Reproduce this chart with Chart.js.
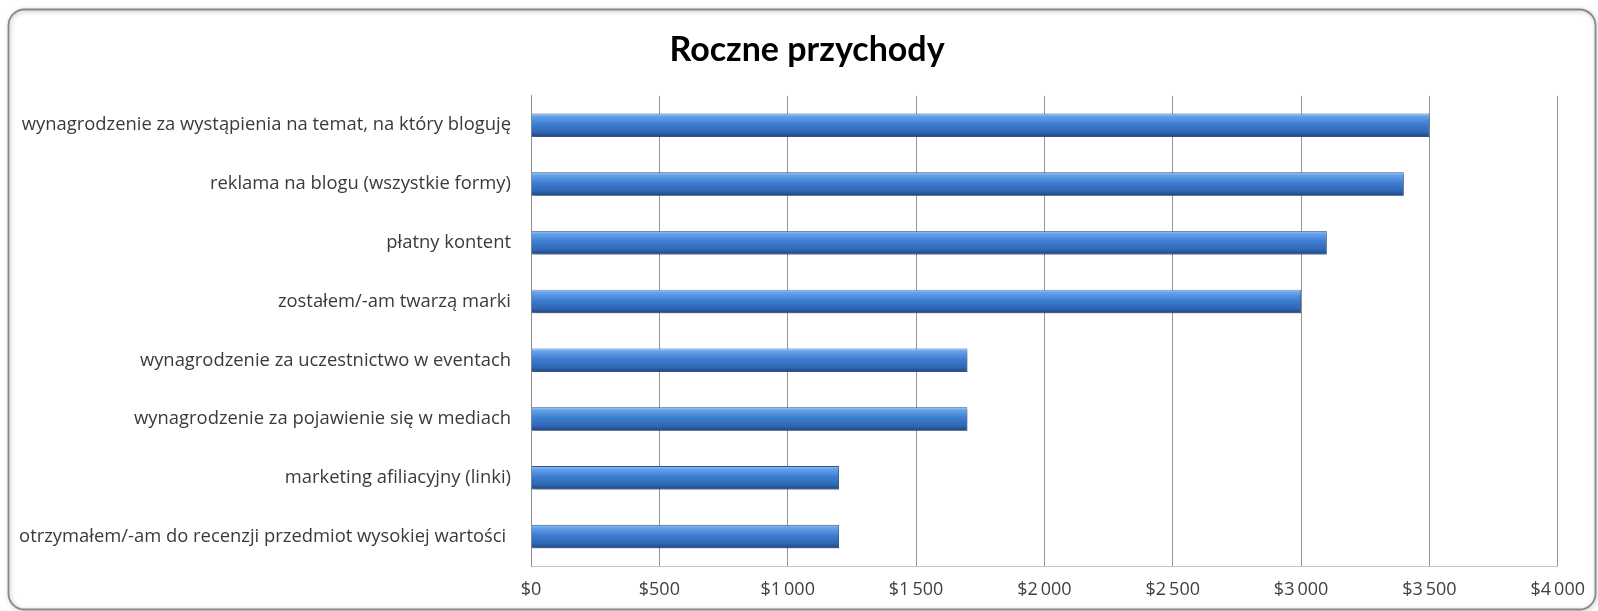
<!DOCTYPE html>
<html>
<head>
<meta charset="utf-8">
<script src="https://cdn.jsdelivr.net/npm/chart.js@4/dist/chart.umd.min.js"></script>
<style>
  html, body { margin: 0; padding: 0; background: #ffffff; }
  #wrap { position: relative; width: 1598px; height: 611px; }
</style>
</head>
<body>
<div id="wrap"><canvas id="c" width="1598" height="611"></canvas></div>
<script>
const titleText = 'Roczne przychody';
const categories = [
  'wynagrodzenie za wystąpienia na temat, na który bloguję',
  'reklama na blogu (wszystkie formy)',
  'płatny kontent',
  'zostałem/-am twarzą marki',
  'wynagrodzenie za uczestnictwo w eventach',
  'wynagrodzenie za pojawienie się w mediach',
  'marketing afiliacyjny (linki)',
  'otrzymałem/-am do recenzji przedmiot wysokiej wartości '
];
const revenues = [3500, 3400, 3100, 3000, 1700, 1700, 1200, 1200];
const xTickLabels = ['$0', '$500', '$1\u2009000', '$1\u2009500', '$2\u2009000', '$2\u2009500', '$3\u2009000', '$3\u2009500', '$4\u2009000'];

const BAR_PCT = 0.4;

const framePlugin = {
  id: 'frame',
  beforeDraw(chart) {
    const ctx = chart.ctx;
    ctx.save();
    ctx.fillStyle = '#ffffff';
    ctx.fillRect(0, 0, chart.width, chart.height);
    ctx.shadowColor = 'rgba(0,0,0,0.3)';
    ctx.shadowBlur = 4;
    ctx.shadowOffsetX = 1;
    ctx.shadowOffsetY = 1;
    ctx.strokeStyle = '#888888';
    ctx.lineWidth = 1.8;
    ctx.beginPath();
    ctx.roundRect(8.5, 9.5, 1587, 600, 16);
    ctx.stroke();
    ctx.restore();
  }
};

// centre the title over the x-range 56..1558 like the reference
const titleShift = {
  id: 'titleShift',
  afterLayout(chart) {
    if (chart.titleBlock) chart.titleBlock.left = 56;
  }
};

const shadowPlugin = {
  id: 'barShadow',
  beforeDatasetsDraw(chart) {
    const ctx = chart.ctx;
    ctx.save();
    ctx.shadowColor = 'rgba(0,0,0,0.35)';
    ctx.shadowBlur = 4;
    ctx.shadowOffsetX = 2;
    ctx.shadowOffsetY = 3;
  },
  afterDatasetsDraw(chart) {
    chart.ctx.restore();
  }
};

function barGradient(context) {
  const chart = context.chart;
  const ys = chart.scales && chart.scales.y;
  if (!ys || context.type !== 'data' || !isFinite(ys.top)) return '#3f7fd0';
  const c = ys.getPixelForValue(context.dataIndex);
  const band = Math.abs(ys.getPixelForValue(1) - ys.getPixelForValue(0));
  const half = band * BAR_PCT / 2;
  const g = chart.ctx.createLinearGradient(0, c - half, 0, c + half);
  g.addColorStop(0, '#9ccaf6');
  g.addColorStop(0.12, '#66a2e8');
  g.addColorStop(0.45, '#3d7ed2');
  g.addColorStop(0.8, '#2f66b3');
  g.addColorStop(1, '#1d4580');
  return g;
}

new Chart(document.getElementById('c'), {
  type: 'bar',
  data: {
    labels: categories,
    datasets: [{
      data: revenues,
      backgroundColor: barGradient,
      borderColor: '#2a5592',
      borderWidth: 0.8,
      barPercentage: BAR_PCT,
      categoryPercentage: 1.0
    }]
  },
  options: {
    indexAxis: 'y',
    responsive: false,
    animation: false,
    devicePixelRatio: 1,
    layout: { padding: { top: 10, left: 10, right: 40, bottom: 0 } },
    plugins: {
      legend: { display: false },
      tooltip: { enabled: false },
      title: {
        display: true,
        text: titleText,
        color: '#000000',
        font: { family: 'Lato', size: 34, weight: 'bold', lineHeight: 1.2 },
        padding: { top: 20, bottom: 25 }
      }
    },
    scales: {
      x: {
        min: 0,
        max: 4000,
        ticks: {
          stepSize: 500,
          color: '#404040',
          font: { family: 'Open Sans', size: 18 },
          padding: 13,
          callback: (v, i) => xTickLabels[i]
        },
        grid: { color: '#959595', lineWidth: 1, drawTicks: false },
        border: { display: true, color: '#c4c4c4', width: 1 },
        afterFit: (s) => { s.height = 45; }
      },
      y: {
        ticks: {
          color: '#3a3a3a',
          font: { family: 'Open Sans', size: 18.4 },
          padding: 20,
          crossAlign: 'near'
        },
        grid: { display: false, drawTicks: false },
        border: { display: true, color: '#8f8f8f', width: 1 },
        afterFit: (s) => { s.width = 521; }
      }
    }
  },
  plugins: [framePlugin, titleShift, shadowPlugin]
});
</script>
</body>
</html>
